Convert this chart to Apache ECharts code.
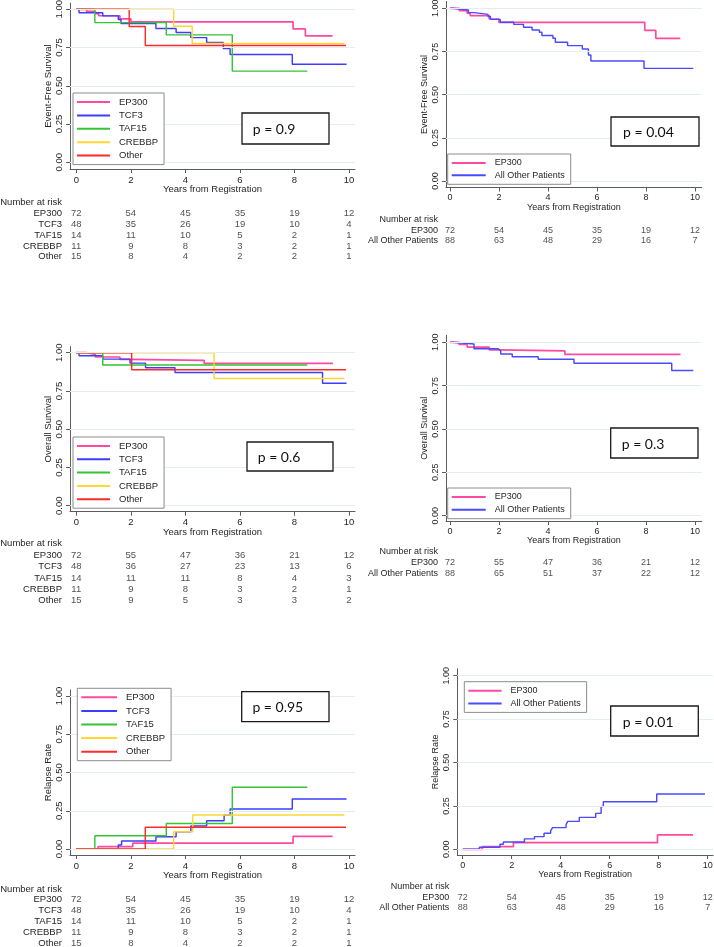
<!DOCTYPE html>
<html>
<head>
<meta charset="utf-8">
<script src="https://cdn.jsdelivr.net/npm/echarts@6/dist/echarts.min.js"></script>
<style>
html,body{margin:0;padding:0;background:#fff;}
#chart{width:714px;height:947px;}
</style>
</head>
<body>
<div id="chart"></div>
<script>
// ---------------- DATA ----------------
const xTicks = [0, 2, 4, 6, 8, 10];
const yTicks = [0, 0.25, 0.5, 0.75, 1];
const riskTimes = [0, 2, 4, 6, 8, 10];

// Event-free survival (Kaplan-Meier steps: [years, survival])
const efsEP300 = [[0,1],[0.38,0.986],[0.7,0.972],[0.82,0.958],[1.6,0.938],[2.0,0.918],[7.95,0.872],[8.4,0.826],[9.4,0.826]];
const efsTCF3 = [[0,1],[0.1,0.978],[0.97,0.957],[1.54,0.933],[1.64,0.907],[2.92,0.874],[3.66,0.848],[4.2,0.815],[4.78,0.783],[5.39,0.743],[5.64,0.704],[7.92,0.641],[9.91,0.641]];
const efsTAF15 = [[0,1],[0.68,0.913],[3.3,0.833],[5.72,0.596],[8.47,0.596]];
const efsCREBBP = [[0,1],[3.57,0.889],[4.25,0.776],[9.83,0.776]];
const efsOther = [[0,1],[1.94,0.887],[2.53,0.763],[9.89,0.763]];
const efsAllOther = [[0,1],[0.1,0.99],[0.75,0.975],[1.0,0.965],[1.55,0.952],[1.65,0.936],[2.05,0.919],[2.6,0.907],[3.0,0.89],[3.35,0.874],[3.65,0.861],[3.75,0.842],[4.2,0.826],[4.3,0.803],[4.8,0.784],[5.4,0.764],[5.65,0.73],[5.75,0.695],[7.92,0.652],[9.93,0.652]];

// Overall survival
const osEP300 = [[0,1],[0.37,0.988],[0.7,0.972],[1.6,0.956],[2.0,0.95],[4.69,0.93],[9.41,0.93]];
const osTCF3 = [[0,1],[0.1,0.98],[0.97,0.958],[1.97,0.932],[2.54,0.902],[3.62,0.871],[9.03,0.8],[9.91,0.8]];
const osTAF15 = [[0,1],[0.97,0.919],[8.47,0.919]];
const osCREBBP = [[0,1],[5.05,0.832],[9.83,0.832]];
const osOther = [[0,1],[2.03,0.889],[9.89,0.889]];
const osAllOther = [[0,1],[0.1,0.99],[0.98,0.963],[1.95,0.952],[2.07,0.933],[2.54,0.917],[3.6,0.902],[5.06,0.879],[9.05,0.837],[9.93,0.837]];

// Cumulative incidence of relapse
const cirEP300 = [[0,0],[0.8,0.015],[2.07,0.038],[7.95,0.083],[9.4,0.083]];
const cirTCF3 = [[0,0],[1.54,0.026],[1.66,0.052],[2.92,0.08],[3.66,0.113],[4.2,0.15],[4.78,0.185],[5.42,0.222],[5.64,0.261],[7.92,0.327],[9.91,0.327]];
const cirTAF15 = [[0,0],[0.68,0.087],[3.3,0.167],[5.72,0.404],[8.47,0.404]];
const cirCREBBP = [[0,0],[3.57,0.113],[4.27,0.222],[9.83,0.222]];
const cirOther = [[0,0],[2.53,0.142],[9.89,0.142]];
const cirAllOther = [[0,0],[0.68,0.012],[1.52,0.029],[1.66,0.042],[2.52,0.06],[2.93,0.073],[3.32,0.092],[3.59,0.107],[3.67,0.125],[4.22,0.144],[4.29,0.161],[4.76,0.184],[5.43,0.207],[5.65,0.246],[5.74,0.274],[7.92,0.319],[9.89,0.319]];

// Numbers at risk
const efsRiskEP300 = [72,54,45,35,19,12];
const efsRiskTCF3 = [48,35,26,19,10,4];
const efsRiskTAF15 = [14,11,10,5,2,1];
const efsRiskCREBBP = [11,9,8,3,2,1];
const efsRiskOther = [15,8,4,2,2,1];
const efsRiskAllOther = [88,63,48,29,16,7];
const osRiskEP300 = [72,55,47,36,21,12];
const osRiskTCF3 = [48,36,27,23,13,6];
const osRiskTAF15 = [14,11,11,8,4,3];
const osRiskCREBBP = [11,9,8,3,2,1];
const osRiskOther = [15,9,5,3,3,2];
const osRiskAllOther = [88,65,51,37,22,12];

const groupNames5 = ['EP300','TCF3','TAF15','CREBBP','Other'];
const groupNames2 = ['EP300','All Other Patients'];
const pValues = ['p = 0.9','p = 0.04','p = 0.6','p = 0.3','p = 0.95','p = 0.01'];

// ---------------- STYLE ----------------
const FONT = "'Liberation Sans', Arial, sans-serif";
const COLORS = {'EP300':'#ff4aa0','TCF3':'#3d3dff','TAF15':'#35c435','CREBBP':'#ffd634','Other':'#ff2b2b','All Other Patients':'#4a4aff'};
const AXIS_COLOR = '#5c5c5c';
const TEXT_COLOR = '#262626';
const GRID_COLOR = '#e4edef';

const panels = [
  {left:70, right:355, bottom:169, x0:76.3, x10:349, y1:9.3, y0:162.3, fs:9.5,
   yName:'Event-Free Survival', names:groupNames5,
   curves:[efsEP300,efsTCF3,efsTAF15,efsCREBBP,efsOther],
   risk:[efsRiskEP300,efsRiskTCF3,efsRiskTAF15,efsRiskCREBBP,efsRiskOther],
   legend:{left:73, top:93, iw:33, gap:1.4}, pbox:{x:242,y:113,w:87,h:31,tx:10.7},
   table:{titleY:202, rowY0:213.2, rowH:10.9}},
  {left:446, right:701.7, bottom:187.5, x0:450, x10:695, y1:8.3, y0:181, fs:9,
   yName:'Event-Free Survival', names:groupNames2,
   curves:[efsEP300,efsAllOther],
   risk:[efsRiskEP300,efsRiskAllOther],
   legend:{left:447.7, top:154, iw:34, gap:0.3}, pbox:{x:611,y:117,w:88,h:29,tx:12},
   table:{titleY:220, rowY0:230.5, rowH:10.5}},
  {left:70, right:355, bottom:511.7, x0:76.3, x10:349, y1:352.7, y0:505.7, fs:9.5,
   yName:'Overall Survival', names:groupNames5,
   curves:[osEP300,osTCF3,osTAF15,osCREBBP,osOther],
   risk:[osRiskEP300,osRiskTCF3,osRiskTAF15,osRiskCREBBP,osRiskOther],
   legend:{left:73, top:437, iw:33, gap:1.3}, pbox:{x:247,y:442,w:86,h:29,tx:10.7},
   table:{titleY:543.3, rowY0:555.7, rowH:11.1}},
  {left:446, right:701.7, bottom:521, x0:450, x10:695, y1:342.3, y0:515.7, fs:9,
   yName:'Overall Survival', names:groupNames2,
   curves:[osEP300,osAllOther],
   risk:[osRiskEP300,osRiskAllOther],
   legend:{left:447.7, top:488, iw:34, gap:0.7}, pbox:{x:610.7,y:428,w:87.3,h:30,tx:11},
   table:{titleY:552, rowY0:562.7, rowH:10.6}},
  {left:70, right:355, bottom:855, x0:76.3, x10:349, y1:696, y0:849, fs:9.5,
   yName:'Relapse Rate', names:groupNames5,
   curves:[cirEP300,cirTCF3,cirTAF15,cirCREBBP,cirOther],
   risk:[efsRiskEP300,efsRiskTCF3,efsRiskTAF15,efsRiskCREBBP,efsRiskOther],
   legend:{left:77.3, top:688.3, iw:35.7, gap:1.6}, pbox:{x:241.7,y:691.7,w:87.3,h:30,tx:10.7},
   table:{titleY:889.3, rowY0:899.7, rowH:10.9}},
  {left:457.3, right:713, bottom:855, x0:462.7, x10:707.7, y1:675.7, y0:849.3, fs:9,
   yName:'Relapse Rate', names:groupNames2,
   curves:[cirEP300,cirAllOther],
   risk:[efsRiskEP300,efsRiskAllOther],
   legend:{left:464.3, top:681.7, iw:33.3, gap:0.7}, pbox:{x:610.7,y:706,w:87.6,h:30,tx:12},
   table:{titleY:886.7, rowY0:897.3, rowH:10.0}}
];

// ---------------- BUILD ----------------
const option = {animation:false, backgroundColor:'#fff', grid:[], xAxis:[], yAxis:[], series:[], legend:[], graphic:[]};

panels.forEach((p, i) => {
  const gPlot = 2*i, gTab = 2*i + 1;
  const pxX = (p.x10 - p.x0) / 10;
  const xmin = (p.left - p.x0) / pxX;
  const xmax = (p.right - p.x0) / pxX;
  const pxY = p.y0 - p.y1;
  const ymin = -(p.bottom - p.y0) / pxY;
  const ymax = 1.04;
  const top = p.y1 - 0.04 * pxY;

  option.grid.push({left:p.left, top:top, width:p.right - p.left, height:p.bottom - top, outerBoundsMode:'none', containLabel:false});
  const nRows = p.names.length;
  option.grid.push({left:p.left, top:p.table.rowY0 - p.table.rowH/2, width:p.right - p.left, height:p.table.rowH*nRows, outerBoundsMode:'none', containLabel:false});

  option.xAxis.push({
    gridIndex:gPlot, type:'value', min:xmin, max:xmax,
    axisLine:{show:true, onZero:false, lineStyle:{color:AXIS_COLOR, width:1}},
    axisTick:{show:true, customValues:xTicks, length:4, lineStyle:{color:AXIS_COLOR}},
    axisLabel:{show:true, customValues:xTicks, margin:6, fontSize:p.fs, fontFamily:FONT, color:TEXT_COLOR},
    splitLine:{show:false},
    name:'Years from Registration', nameLocation:'middle', nameGap:15.5, nameMoveOverlap:false,
    nameTextStyle:{fontSize:p.fs, fontFamily:FONT, color:TEXT_COLOR}
  });
  option.yAxis.push({
    gridIndex:gPlot, type:'value', min:ymin, max:ymax,
    axisLine:{show:true, onZero:false, lineStyle:{color:AXIS_COLOR, width:1}},
    axisTick:{show:true, customValues:yTicks, length:4, lineStyle:{color:AXIS_COLOR}},
    axisLabel:{show:true, customValues:yTicks, rotate:90, margin:6, fontSize:p.fs, fontFamily:FONT, color:TEXT_COLOR,
      formatter:v => Number(v).toFixed(2)},
    splitLine:{show:false},
    name:p.yName, nameLocation:'middle', nameGap:17, nameMoveOverlap:false,
    nameTextStyle:{fontSize:p.fs, fontFamily:FONT, color:TEXT_COLOR}
  });
  // table axes
  option.xAxis.push({gridIndex:gTab, type:'value', min:xmin, max:xmax, show:false});
  option.yAxis.push({
    gridIndex:gTab, type:'category', data:p.names, inverse:true,
    axisLine:{show:false}, axisTick:{show:false}, splitLine:{show:false},
    axisLabel:{show:true, interval:0, margin:8, fontSize:p.fs, fontFamily:FONT, color:TEXT_COLOR}
  });

  // grid lines
  option.series.push({
    type:'line', xAxisIndex:gPlot, yAxisIndex:gPlot, data:[], silent:true, z:1,
    markLine:{silent:true, symbol:['none','none'], label:{show:false},
      lineStyle:{color:GRID_COLOR, width:1, type:'solid'},
      data:yTicks.map(v => ({yAxis:v}))}
  });

  // curves
  p.curves.forEach((c, k) => {
    const nm = p.names[k];
    option.series.push({
      type:'line', name:nm, xAxisIndex:gPlot, yAxisIndex:gPlot, data:c, step:'end',
      showSymbol:false, symbol:'none', silent:true, clip:false, z:3,
      lineStyle:{color:COLORS[nm], width:(nm === 'EP300' ? 1.7 : 1.45)},
      itemStyle:{color:COLORS[nm]}
    });
  });

  // number at risk table
  const tdata = [];
  p.risk.forEach((row, r) => row.forEach((v, j) => tdata.push([riskTimes[j], r, v])));
  option.series.push({
    type:'scatter', name:'risk' + i, xAxisIndex:gTab, yAxisIndex:gTab, data:tdata,
    symbolSize:1, itemStyle:{color:'transparent'}, silent:true,
    label:{show:true, position:'inside', formatter:q => String(q.value[2]),
      fontSize:p.fs, fontFamily:FONT, color:TEXT_COLOR}
  });

  // legend
  option.legend.push({
    left:p.legend.left, top:p.legend.top, orient:'vertical', data:p.names,
    icon:'rect', itemWidth:p.legend.iw, itemHeight:2, itemGap:p.legend.gap,
    padding:[3,6,3,4], borderColor:'#8c8c8c', borderWidth:1, backgroundColor:'#fff',
    selectedMode:false, z:10,
    textStyle:{fontSize:p.fs, lineHeight:12, fontFamily:FONT, color:TEXT_COLOR, padding:[0,0,0,4]}
  });

  // "Number at risk" label
  option.graphic.push({type:'text', x:p.left - 8, y:p.table.titleY, z:20,
    style:{text:'Number at risk', align:'right', verticalAlign:'middle', fontSize:p.fs, fontFamily:FONT, fill:TEXT_COLOR}});

  // p-value box
  option.graphic.push({type:'rect', shape:{x:p.pbox.x, y:p.pbox.y, width:p.pbox.w, height:p.pbox.h}, z:20,
    style:{fill:'#fff', stroke:'#1a1a1a', lineWidth:1.3}});
  option.graphic.push({type:'text', x:p.pbox.x + p.pbox.tx, y:p.pbox.y + p.pbox.h/2 + 1, z:21,
    style:{text:pValues[i], align:'left', verticalAlign:'middle', fontSize:14, fontFamily:"Lato, 'Open Sans', sans-serif", fill:'#111'}});
});

const chart = echarts.init(document.getElementById('chart'), null, {renderer:'canvas'});
chart.setOption(option);
</script>
</body>
</html>
